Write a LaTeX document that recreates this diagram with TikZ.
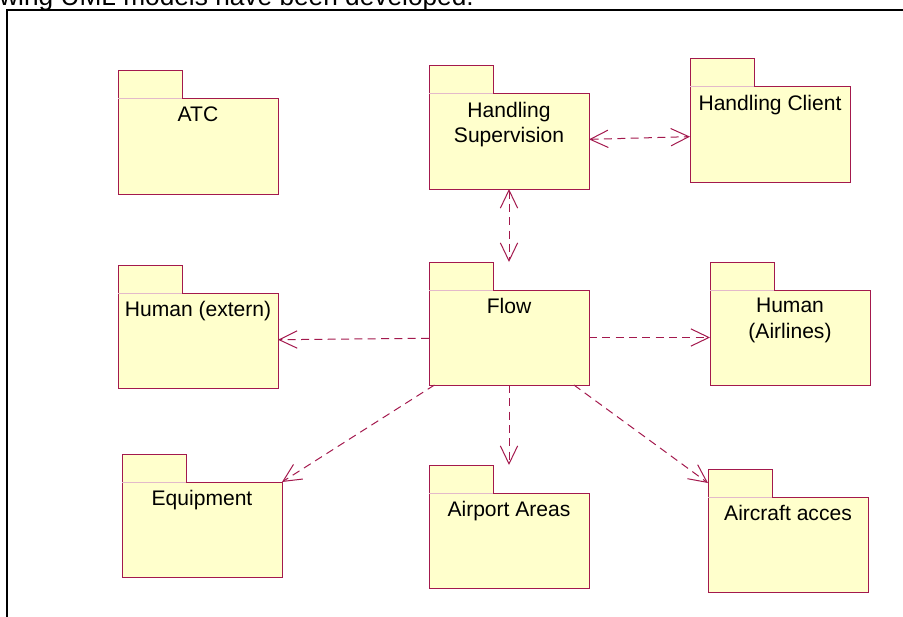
\documentclass[tikz,border=0pt]{standalone}
\usepackage{fontspec}
\newfontfamily\arialfont{Liberation Sans}
\usetikzlibrary{positioning,arrows.meta}
\definecolor{roseline}{HTML}{A3194D}
\definecolor{rosefill}{HTML}{FFFFCC}

\begin{document}
\begin{tikzpicture}[x=0.75pt, y=-0.75pt,
  pkg/.style={draw=roseline, fill=rosefill, line width=0.75pt, inner sep=0pt,
              outer sep=0pt, minimum width=120pt, minimum height=71.25pt,
              anchor=north west},
  pkgtab/.style={draw=roseline, fill=rosefill, line width=0.75pt, inner sep=0pt,
              outer sep=0pt, minimum width=48pt, minimum height=21pt},
  tabline/.style={draw=roseline!30, line width=0.75pt},
  pkgname/.style={anchor=north, yshift=-6pt, inner sep=0pt, align=center,
              font=\arialfont\fontsize{15.8}{19.1}\selectfont},
  dep/.style={draw=roseline, line width=0.75pt, dash pattern=on 6pt off 4pt,
              -{Straight Barb[length=13.5pt, width=13pt]}},
  bidep/.style={dep, {Straight Barb[length=13.5pt, width=13pt]}-{Straight Barb[length=13.5pt, width=13pt]}},
]
\useasboundingbox (0,0) rectangle (903,617);
\clip (0,0) rectangle (903,617);

% Cut-off caption line and frame of the figure.
\node[anchor=base west, inner sep=0pt,
      font=\arialfont\fontsize{19.7}{23}\selectfont] (caption) at (-1,5.5)
  {wing UML models have been developed.};
\draw[line width=1.3pt] (7,620) |- (910,9.8);

% Package bodies (top-left corner of each body).
\node[pkg, label={[pkgname]north:ATC}] (atc) at (118,99) {};
\node[pkg, label={[pkgname]north:{Handling\\Supervision}}] (hs) at (429,94) {};
\node[pkg, label={[pkgname]north:Handling Client}] (hc) at (690,87) {};
\node[pkg, label={[pkgname]north:Human (extern)}] (hext) at (118,293) {};
\node[pkg, label={[pkgname]north:Flow}] (flow) at (429,290) {};
\node[pkg, label={[pkgname]north:{Human\\(Airlines)}}] (hair) at (710,290) {};
\node[pkg, label={[pkgname]north:Equipment}] (equip) at (122,482) {};
\node[pkg, label={[pkgname]north:Airport Areas}] (areas) at (429,493) {};
\node[pkg, label={[pkgname]north:Aircraft acces}] (acces) at (708,497) {};

% Folder tabs on top of every package.
\foreach \p in {atc,hs,hc,hext,flow,hair,equip,areas,acces} {
  \node[pkgtab, above right=0pt of \p.north west] (\p-tab) {};
  \draw[tabline] (\p-tab.south west) -- (\p-tab.south east);
}

% Dependencies.
\draw[bidep] (hs) -- (hc);
\draw[bidep] (hs.south) -- (flow.north |- flow-tab.north);
\draw[dep] (flow) -- (hext);
\draw[dep] (flow) -- (hair);
\draw[dep] (flow) -- (equip.north east);
\draw[dep] (flow.south) -- (areas.north |- areas-tab.north);
\draw[dep] (flow) -- (acces-tab.west);

\end{tikzpicture}
\end{document}
